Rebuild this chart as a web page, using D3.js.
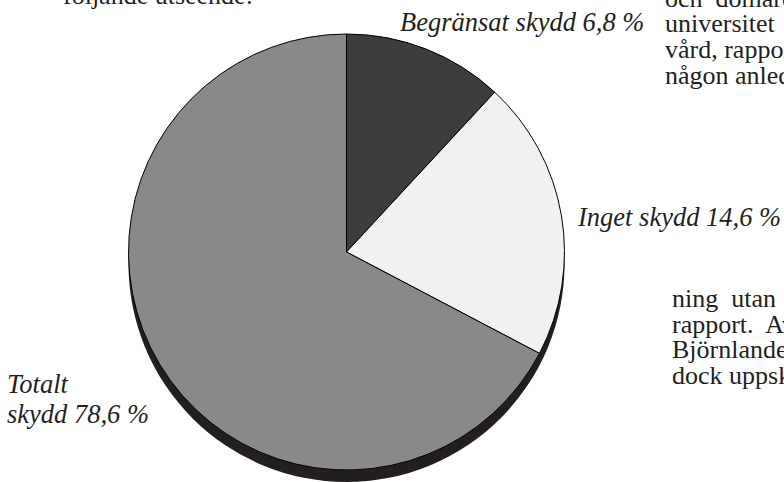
<!DOCTYPE html>
<html lang="sv">
  <head>
    <meta charset="utf-8" />
    <script src="https://d3js.org/d3.v7.min.js"></script>
    <style>
      body {
        margin: 0;
        background-color: #fff;
        overflow: hidden;
      }
      .label {
        font-family: "Liberation Serif", "Times New Roman", serif;
        font-style: italic;
        font-size: 26.5px;
        fill: #231f20;
      }
      .body-text {
        font-family: "Liberation Serif", "Times New Roman", serif;
        font-size: 26px;
        fill: #231f20;
        white-space: pre;
      }
    </style>
  </head>
  <body>
    <div id="chart"></div>

    <script>
      const width = 784;
      const height = 482;

      // Skyddsnivå - andelar som de är ritade i figuren
      const categories = ["Begränsat skydd", "Inget skydd", "Totalt skydd"];
      const percentLabels = ["6,8 %", "14,6 %", "78,6 %"];
      const sliceShares = [11.9, 20.8, 67.3];
      const sliceColors = ["#3d3d3d", "#f1f1f1", "#898989"];

      // Brödtext runt figuren (avklippt i bilden)
      const topLeftLines = ["följande utseende:"];
      const topRightLines = ["och  domare", "universitet", "vård, rapport", "någon anled"];
      const lowerRightLines = ["ning  utan", "rapport.  Av", "Björnlander", "dock uppskatt"];

      const cx = 346.5;
      const cy = 252;
      const radius = 218;
      const depth = 12;

      const svg = d3
        .select("#chart")
        .append("svg")
        .attr("width", width)
        .attr("height", height);

      const pie = d3
        .pie()
        .sort(null)
        .value((d) => d);

      const arc = d3.arc().innerRadius(0).outerRadius(radius);

      // Skugga / kant under cirkeln
      svg
        .append("circle")
        .attr("cx", cx)
        .attr("cy", cy + depth)
        .attr("r", radius)
        .attr("fill", "#231f20");

      const g = svg.append("g").attr("transform", `translate(${cx},${cy})`);

      g.selectAll("path")
        .data(pie(sliceShares))
        .join("path")
        .attr("d", arc)
        .attr("fill", (d, i) => sliceColors[i])
        .attr("stroke", "#000")
        .attr("stroke-width", 1)
        .attr("stroke-linejoin", "round");

      // Etiketter
      const labelPos = [
        { x: 400, y: 31, lines: [categories[0] + " " + percentLabels[0]] },
        { x: 578, y: 226, lines: [categories[1] + " " + percentLabels[1]] },
        { x: 7, y: 393, lines: ["Totalt", "skydd " + percentLabels[2]] }
      ];

      labelPos.forEach((p) => {
        const t = svg
          .append("text")
          .attr("class", "label")
          .attr("x", p.x)
          .attr("y", p.y);
        t.selectAll("tspan")
          .data(p.lines)
          .join("tspan")
          .attr("x", p.x)
          .attr("dy", (d, i) => (i === 0 ? 0 : 30))
          .text((d) => d);
      });

      function textBlock(lines, x, y, lh) {
        svg
          .append("g")
          .selectAll("text")
          .data(lines)
          .join("text")
          .attr("class", "body-text")
          .attr("x", x)
          .attr("y", (d, i) => y + i * lh)
          .text((d) => d);
      }

      textBlock(topLeftLines, 63, 4, 25.7);
      textBlock(topRightLines, 665, 6.5, 25.7);
      textBlock(lowerRightLines, 672, 307, 25.7);
    </script>
  </body>
</html>
